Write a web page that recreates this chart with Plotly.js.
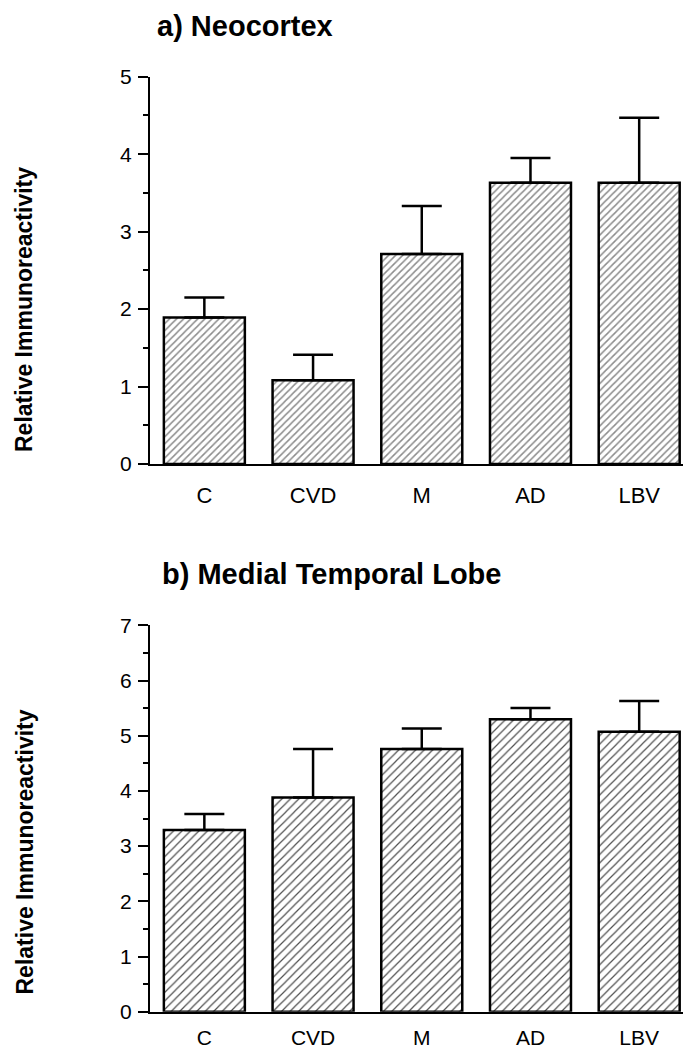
<!DOCTYPE html>
<html>
<head>
<meta charset="utf-8">
<script src="https://cdn.plot.ly/plotly-3.0.1.min.js"></script>
<style>html,body{margin:0;padding:0;background:#fff;}#chart{width:683px;height:1054px;}</style>
</head>
<body>
<div id="chart"></div>
<script>
var categories = ["C", "CVD", "M", "AD", "LBV"];
var neocortexMean = [1.89, 1.08, 2.71, 3.63, 3.63];
var neocortexErrTop = [2.15, 1.41, 3.33, 3.95, 4.47];
var mtlMean = [3.29, 3.88, 4.76, 5.30, 5.07];
var mtlErrTop = [3.58, 4.76, 5.13, 5.50, 5.63];
var yTicksA = [0, 1, 2, 3, 4, 5];
var yTicksB = [0, 1, 2, 3, 4, 5, 6, 7];

var H = 1054, W = 683, L = 150;
function py(px) { return 1 - px / H; }
function pxX(px) { return (px - L) / (W - L); }

function diff(a, b) { return a.map(function (v, i) { return v - b[i]; }); }

var font = "Arial, 'Liberation Sans', Helvetica, sans-serif";

var traceA = {
  type: "bar", x: categories, y: neocortexMean, xaxis: "x", yaxis: "y",
  width: 0.745,
  marker: { color: "white", line: { color: "black", width: 2.5 },
    pattern: { shape: "/", fgcolor: "#8c8c8c", bgcolor: "white", size: 5, solidity: 0.3 } },
  error_y: { type: "data", symmetric: false, array: diff(neocortexErrTop, neocortexMean),
    arrayminus: neocortexMean.map(function () { return 0; }), color: "black", thickness: 2.5, width: 20 },
  hoverinfo: "skip", showlegend: false
};
var traceB = {
  type: "bar", x: categories, y: mtlMean, xaxis: "x2", yaxis: "y2",
  width: 0.745,
  marker: { color: "white", line: { color: "black", width: 2.5 },
    pattern: { shape: "/", fgcolor: "#505050", bgcolor: "white", size: 6, solidity: 0.2 } },
  error_y: { type: "data", symmetric: false, array: diff(mtlErrTop, mtlMean),
    arrayminus: mtlMean.map(function () { return 0; }), color: "black", thickness: 2.5, width: 20 },
  hoverinfo: "skip", showlegend: false
};

function xax(anchor, standoff, size) {
  return { anchor: anchor, domain: [0, 1], range: [-0.5, 4.403], type: "category",
    showline: true, linewidth: 2, linecolor: "black", ticks: "", showgrid: false, zeroline: false,
    tickfont: { family: font, size: size, color: "black" }, ticklabelstandoff: standoff, fixedrange: true };
}
function yax(anchor, dom, max, vals) {
  return { anchor: anchor, domain: dom, range: [0, max], tickvals: vals,
    showline: true, linewidth: 2, linecolor: "black", ticks: "outside", ticklen: 10, tickwidth: 2,
    tickcolor: "black", showgrid: false, zeroline: false,
    minor: { dtick: 0.5, ticks: "outside", ticklen: 5, tickwidth: 2, tickcolor: "black", showgrid: false },
    tickfont: { family: font, size: 21, color: "black" }, ticklabelstandoff: 2, fixedrange: true };
}

var layout = {
  width: W, height: H,
  margin: { l: L, r: 0, t: 0, b: 0 },
  paper_bgcolor: "white", plot_bgcolor: "white",
  bargap: 0.25,
  xaxis: xax("y", 11, 22),
  yaxis: yax("x", [py(464), py(76.7)], 5, yTicksA),
  xaxis2: xax("y2", 6, 21),
  yaxis2: yax("x2", [py(1011.7), py(625.3)], 7, yTicksB),
  annotations: [
    { text: "<b>a) Neocortex</b>", xref: "paper", yref: "paper", x: pxX(155), y: py(26),
      xanchor: "left", yanchor: "middle", showarrow: false, font: { family: font, size: 29, color: "black" } },
    { text: "<b>b) Medial Temporal Lobe</b>", xref: "paper", yref: "paper", x: pxX(160), y: py(574),
      xanchor: "left", yanchor: "middle", showarrow: false, font: { family: font, size: 29, color: "black" } },
    { text: "<b>Relative Immunoreactivity</b>", xref: "paper", yref: "paper", x: pxX(24), y: py(310),
      xanchor: "center", yanchor: "middle", textangle: -90, showarrow: false, font: { family: font, size: 23, color: "black" } },
    { text: "<b>Relative Immunoreactivity</b>", xref: "paper", yref: "paper", x: pxX(24), y: py(852.5),
      xanchor: "center", yanchor: "middle", textangle: -90, showarrow: false, font: { family: font, size: 23, color: "black" } }
  ]
};

Plotly.newPlot("chart", [traceA, traceB], layout, { staticPlot: true, displayModeBar: false });
</script>
</body>
</html>
